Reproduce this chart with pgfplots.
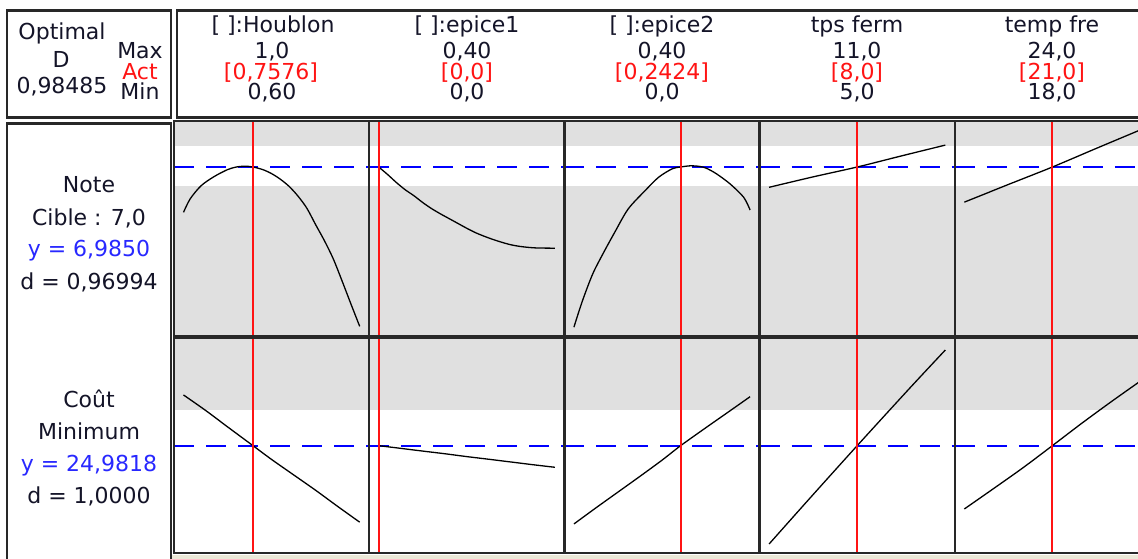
\documentclass[border=0pt]{standalone}
\usepackage{pgfplots}
\pgfplotsset{compat=1.18}
\usepackage{fontspec}
\setmainfont{DejaVu Sans}
\definecolor{bandgray}{RGB}{224,224,224}
\definecolor{framecol}{RGB}{40,40,40}
\definecolor{txt}{RGB}{20,20,40}
\definecolor{actred}{RGB}{255,20,20}
\definecolor{yblue}{RGB}{40,40,255}
\definecolor{beige}{RGB}{236,233,216}
\pgfplotsset{
 panel/.style={scale only axis, width=195.2pt, height=215pt, xtick=\empty, ytick=\empty,
   axis on top, axis line style={line width=2.4pt, draw=framecol}, anchor=south west,
   axis background/.style={fill=bandgray}},
 r1/.style={ymin=2.78,ymax=8.13},
 r2/.style={ymin=10,ymax=40},
 c1/.style={xmin=0.5784,xmax=1.0216},
 c2/.style={xmin=-0.0216,xmax=0.4216},
 c4/.style={xmin=4.676,xmax=11.324},
 c5/.style={xmin=17.676,xmax=24.324},
 curve/.style={black, line width=1.3pt, smooth, no markers},
 act/.style={actred, line width=2pt, no markers},
 tgt/.style={blue, line width=2pt, dash pattern=on 20pt off 12pt, no markers},
}
\begin{document}
\begin{tikzpicture}[x=1pt,y=1pt,font=\fontsize{22}{22}\selectfont, every node/.style={inner sep=0pt, text=txt}]
\useasboundingbox (0,0) rectangle (1138,559);
\begin{scope}
\clip (0,0) rectangle (1138,559);
\fill[white] (0,0) rectangle (1138,559);
\fill[beige] (172,0) rectangle (1138,4);
% ---------- frames of header and label boxes
\draw[framecol, line width=2.5pt] (7,548.5) rectangle (171,441.5);
\draw[framecol, line width=2.5pt] (177,548.5) rectangle (1170,441.5);
\draw[framecol, line width=2.5pt] (7,435.5) rectangle (171,-20);
% ---------- left header
\node[anchor=base] at (62,519) {Optimal};
\node[anchor=base] at (61,491) {D};
\node[anchor=base] at (62,465) {0,98485};
\node[anchor=base] at (140,500) {Max};
\node[anchor=base, text=actred] at (140,479) {Act};
\node[anchor=base] at (140,459) {Min};
% ---------- column headers
\node[anchor=base] at (273,526) {[ ]:Houblon};
\node[anchor=base] at (272,500) {1,0};
\node[anchor=base, text=actred] at (271,479) {[0,7576]};
\node[anchor=base] at (272,459) {0,60};
\node[anchor=base] at (467,526) {[ ]:epice1};
\node[anchor=base] at (467,500) {0,40};
\node[anchor=base, text=actred] at (467,479) {[0,0]};
\node[anchor=base] at (467,459) {0,0};
\node[anchor=base] at (662,526) {[ ]:epice2};
\node[anchor=base] at (662,500) {0,40};
\node[anchor=base, text=actred] at (662,479) {[0,2424]};
\node[anchor=base] at (662,459) {0,0};
\node[anchor=base] at (857,526) {tps ferm};
\node[anchor=base] at (857,500) {11,0};
\node[anchor=base, text=actred] at (857,479) {[8,0]};
\node[anchor=base] at (857,459) {5,0};
\node[anchor=base] at (1052,526) {temp fre};
\node[anchor=base] at (1052,500) {24,0};
\node[anchor=base, text=actred] at (1052,479) {[21,0]};
\node[anchor=base] at (1052,459) {18,0};
% ---------- row labels
\node[anchor=base] at (89,366) {Note};
\node[anchor=base] at (89,333) {Cible : 7,0};
\node[anchor=base, text=yblue] at (89,302) {y = 6,9850};
\node[anchor=base] at (89,269) {d = 0,96994};
\node[anchor=base] at (89,151) {Coût};
\node[anchor=base] at (89,119) {Minimum};
\node[anchor=base, text=yblue] at (89,87) {y = 24,9818};
\node[anchor=base] at (89,55) {d = 1,0000};
% ================= ROW 1 : Note =================
\begin{axis}[panel, r1, c1, at={(174pt,223pt)}]
\fill[white] (axis cs:0.5784,6.5) rectangle (axis cs:1.0216,7.5);
\addplot[tgt] coordinates {(0.5784,6.985) (1.0216,6.985)};
\addplot[curve] coordinates {(0.600,5.857) (0.615,6.19) (0.64,6.52) (0.67,6.75) (0.70,6.92) (0.72,6.985) (0.74,7.005) (0.7576,6.985) (0.78,6.92) (0.80,6.82) (0.82,6.68) (0.84,6.50) (0.86,6.26) (0.88,5.96) (0.90,5.55) (0.92,5.15) (0.94,4.70) (0.96,4.15) (0.98,3.58) (1.0,3.02)};
\addplot[act] coordinates {(0.7576,2.78) (0.7576,8.13)};
\end{axis}
\begin{axis}[panel, r1, c2, at={(369.2pt,223pt)}]
\fill[white] (axis cs:-0.0216,6.5) rectangle (axis cs:0.4216,7.5);
\addplot[tgt] coordinates {(-0.0216,6.985) (0.4216,6.985)};
\addplot[curve] coordinates {(0,6.985) (0.02,6.80) (0.04,6.60) (0.06,6.42) (0.08,6.27) (0.10,6.10) (0.12,5.95) (0.14,5.82) (0.16,5.70) (0.18,5.58) (0.20,5.46) (0.22,5.35) (0.24,5.26) (0.26,5.18) (0.28,5.11) (0.30,5.05) (0.32,5.01) (0.34,4.985) (0.36,4.97) (0.4,4.965)};
\addplot[act] coordinates {(0,2.78) (0,8.13)};
\end{axis}
\begin{axis}[panel, r1, c2, at={(564.4pt,223pt)}]
\fill[white] (axis cs:-0.0216,6.5) rectangle (axis cs:0.4216,7.5);
\addplot[tgt] coordinates {(-0.0216,6.985) (0.4216,6.985)};
\addplot[curve] coordinates {(0,3.0) (0.0192,3.65) (0.0423,4.315) (0.0654,4.815) (0.0925,5.3575) (0.1232,5.94) (0.1619,6.4) (0.1926,6.7325) (0.2236,6.9425) (0.2424,6.985) (0.265,7.015) (0.285,7.0) (0.3006,6.955) (0.3237,6.815) (0.3545,6.565) (0.3854,6.232) (0.4,5.915)};
\addplot[act] coordinates {(0.2424,2.78) (0.2424,8.13)};
\end{axis}
\begin{axis}[panel, r1, c4, at={(759.6pt,223pt)}]
\fill[white] (axis cs:4.676,6.5) rectangle (axis cs:11.324,7.5);
\addplot[tgt] coordinates {(4.676,6.985) (11.324,6.985)};
\addplot[curve] coordinates {(5,6.48) (6.5,6.74) (8,6.985) (9.5,7.26) (11,7.53)};
\addplot[act] coordinates {(8,2.78) (8,8.13)};
\end{axis}
\begin{axis}[panel, r1, c5, at={(954.8pt,223pt)}]
\fill[white] (axis cs:17.676,6.5) rectangle (axis cs:24.324,7.5);
\addplot[tgt] coordinates {(17.676,6.985) (24.324,6.985)};
\addplot[curve] coordinates {(18,6.11) (19.5,6.55) (21,6.985) (22.5,7.45) (24,7.91)};
\addplot[act] coordinates {(21,2.78) (21,8.13)};
\end{axis}
% ================= ROW 2 : Cout =================
\begin{axis}[panel, r2, c1, at={(174pt,6pt)}]
\fill[white] (axis cs:0.5784,10) rectangle (axis cs:1.0216,30);
\addplot[tgt] coordinates {(0.5784,24.98) (1.0216,24.98)};
\addplot[curve] coordinates {(0.6,32.05) (0.65,29.9) (0.7,27.6) (0.7576,24.98) (0.8,23.05) (0.85,20.9) (0.9,18.75) (0.95,16.5) (1.0,14.3)};
\addplot[act] coordinates {(0.7576,10) (0.7576,40)};
\end{axis}
\begin{axis}[panel, r2, c2, at={(369.2pt,6pt)}]
\fill[white] (axis cs:-0.0216,10) rectangle (axis cs:0.4216,30);
\addplot[tgt] coordinates {(-0.0216,24.98) (0.4216,24.98)};
\addplot[curve] coordinates {(0,24.98) (0.05,24.6) (0.1,24.22) (0.15,23.85) (0.2,23.45) (0.25,23.08) (0.3,22.7) (0.35,22.32) (0.4,21.96)};
\addplot[act] coordinates {(0,10) (0,40)};
\end{axis}
\begin{axis}[panel, r2, c2, at={(564.4pt,6pt)}]
\fill[white] (axis cs:-0.0216,10) rectangle (axis cs:0.4216,30);
\addplot[tgt] coordinates {(-0.0216,24.98) (0.4216,24.98)};
\addplot[curve] coordinates {(0,14.05) (0.05,16.3) (0.1,18.5) (0.15,20.7) (0.2,22.95) (0.2424,24.98) (0.3,27.5) (0.35,29.65) (0.4,31.81)};
\addplot[act] coordinates {(0.2424,10) (0.2424,40)};
\end{axis}
\begin{axis}[panel, r2, c4, at={(759.6pt,6pt)}]
\fill[white] (axis cs:4.676,10) rectangle (axis cs:11.324,30);
\addplot[tgt] coordinates {(4.676,24.98) (11.324,24.98)};
\addplot[curve] coordinates {(5,11.26) (6.4,17.7) (8,24.98) (9.8,33.05) (11,38.32)};
\addplot[act] coordinates {(8,10) (8,40)};
\end{axis}
\begin{axis}[panel, r2, c5, at={(954.8pt,6pt)}]
\fill[white] (axis cs:17.676,10) rectangle (axis cs:24.324,30);
\addplot[tgt] coordinates {(17.676,24.98) (24.324,24.98)};
\addplot[curve] coordinates {(18,16.14) (19,19.0) (20,21.9) (21,24.98) (22,28.1) (23,31.1) (24,34.0)};
\addplot[act] coordinates {(21,10) (21,40)};
\end{axis}
\end{scope}
\end{tikzpicture}
\end{document}
